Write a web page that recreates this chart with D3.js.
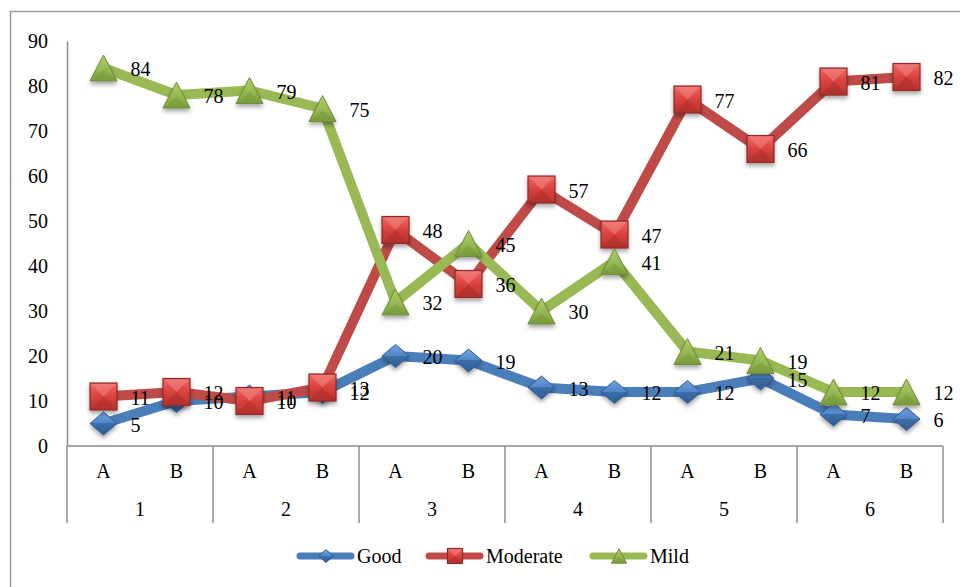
<!DOCTYPE html>
<html>
<head>
<meta charset="utf-8">
<script src="https://cdn.jsdelivr.net/npm/d3@7/dist/d3.min.js"></script>
<style>
  html, body { margin: 0; padding: 0; background: #ffffff; }
  svg { display: block; }
  svg text { font-family: "Times New Roman", "Liberation Serif", "DejaVu Serif", serif !important; fill: #000; }
</style>
</head>
<body>
<svg id="chart" width="960" height="587"></svg>
<script>
// Categories: sub-group letters within each numbered group
const groups = ["1", "2", "3", "4", "5", "6"];
const subLabels = ["A", "B"];
const yTicks = [0, 10, 20, 30, 40, 50, 60, 70, 80, 90];

// Series values, one per (group, sub-group) pair
const goodValues = [5, 10, 11, 12, 20, 19, 13, 12, 12, 15, 7, 6];
const moderateValues = [11, 12, 10, 13, 48, 36, 57, 47, 77, 66, 81, 82];
const mildValues = [84, 78, 79, 75, 32, 45, 30, 41, 21, 19, 12, 12];

const FONT = '"Times New Roman", "Liberation Serif", "DejaVu Serif", serif';
const FS = 20;

const categories = [];
groups.forEach(g => subLabels.forEach(s => categories.push(g + "|" + s)));

const series = [
  { name: "Good", values: goodValues, color: "#4a7ebb", shape: "diamond" },
  { name: "Moderate", values: moderateValues, color: "#be4b48", shape: "square" },
  { name: "Mild", values: mildValues, color: "#98b954", shape: "triangle" }
];

const svg = d3.select("#chart");
const defs = svg.append("defs");

// soft drop shadow under the markers
const shadow = defs.append("filter").attr("id", "mshadow")
  .attr("x", "-50%").attr("y", "-50%").attr("width", "200%").attr("height", "220%");
shadow.append("feDropShadow").attr("dx", 0).attr("dy", 3).attr("stdDeviation", 2)
  .attr("flood-color", "#000").attr("flood-opacity", 0.35);

function grad(id, stops) {
  const g = defs.append("linearGradient").attr("id", id)
    .attr("x1", 0).attr("y1", 0).attr("x2", 0).attr("y2", 1);
  stops.forEach(([o, c]) => g.append("stop").attr("offset", o).attr("stop-color", c));
}
grad("gSquare", [[0, "#ef6a66"], [0.5, "#d9413d"], [1, "#b7322f"]]);
grad("gDiamond", [[0, "#6fa3e0"], [0.5, "#4f86c9"], [0.5, "#3c6ea8"], [1, "#2f5d93"]]);
grad("gTri", [[0, "#b0cf6c"], [0.6, "#93b650"], [1, "#7b9c3c"]]);

// outer chart frame
svg.append("rect").attr("x", 10.5).attr("y", 11.5).attr("width", 990).attr("height", 620)
  .attr("fill", "none").attr("stroke", "#9a9a9a").attr("stroke-width", 1.5);

const plotLeft = 67, plotRight = 943, plotTop = 41, plotBottom = 446;

const x = d3.scaleBand().domain(categories).range([plotLeft, plotRight]);
const xg = d3.scaleBand().domain(groups).range([plotLeft, plotRight]);
const y = d3.scaleLinear().domain([0, 90]).range([plotBottom, plotTop]);
const cx = c => x(c) + x.bandwidth() / 2;

// value axis
const yAxis = svg.append("g").attr("transform", `translate(${plotLeft},0)`)
  .call(d3.axisLeft(y).tickValues(yTicks).tickSize(0).tickPadding(19).tickSizeOuter(0));
yAxis.attr("font-family", FONT);
yAxis.select(".domain").attr("stroke", "#8c8c8c").attr("stroke-width", 1.5);
yAxis.selectAll("text").attr("font-size", FS);

// category axis: baseline, group separators, sub and group labels
const axisColor = "#8c8c8c";
svg.append("line").attr("x1", plotLeft).attr("x2", plotRight)
  .attr("y1", plotBottom).attr("y2", plotBottom)
  .attr("stroke", axisColor).attr("stroke-width", 1.5);
const seps = groups.map(g => xg(g)).concat([plotRight]);
svg.selectAll(".sep").data(seps).join("line")
  .attr("x1", d => d).attr("x2", d => d)
  .attr("y1", plotBottom).attr("y2", 523)
  .attr("stroke", axisColor).attr("stroke-width", 1.5);

const xAxis = svg.append("g").attr("transform", `translate(0,${plotBottom})`)
  .call(d3.axisBottom(x).tickSize(0).tickPadding(18).tickFormat(c => c.split("|")[1]));
xAxis.attr("font-family", FONT);
xAxis.select(".domain").remove();
xAxis.selectAll("text").attr("font-size", FS);

svg.selectAll(".grpLabel").data(groups).join("text")
  .attr("x", g => xg(g) + xg.bandwidth() / 2)
  .attr("y", 516)
  .attr("text-anchor", "middle").attr("font-size", FS)
  .text(g => g);

// marker shapes
function drawMarker(sel, shape, size) {
  const h = size / 2;
  if (shape === "square") {
    sel.append("rect").attr("x", -h).attr("y", -h).attr("width", size).attr("height", size)
      .attr("fill", "url(#gSquare)").attr("stroke", "#8a2b29").attr("stroke-width", 1.2);
    sel.append("path").attr("d", `M${-h + 1},${-h + 1}L0,0L${h - 1},${-h + 1}Z`)
      .attr("fill", "#f28582").attr("opacity", 0.55);
    sel.append("path").attr("d", `M${-h + 1},${h - 1}L0,0L${h - 1},${h - 1}Z`)
      .attr("fill", "#a82c29").attr("opacity", 0.45);
  } else if (shape === "diamond") {
    const hy = h * 0.85;
    sel.append("path").attr("d", `M0,${-hy}L${h},0L0,${hy}L${-h},0Z`)
      .attr("fill", "url(#gDiamond)").attr("stroke", "#2f5b8f").attr("stroke-width", 1);
  } else {
    const hy = size * 0.48;
    sel.append("path").attr("d", `M0,${-hy}L${h},${hy}L${-h},${hy}Z`)
      .attr("fill", "url(#gTri)").attr("stroke", "#6f8b38").attr("stroke-width", 1);
    sel.append("path").attr("d", `M0,${hy * 0.15}L${h * 0.8},${hy * 0.9}L${-h * 0.8},${hy * 0.9}Z`)
      .attr("fill", "#7a9a3a").attr("opacity", 0.55);
  }
}

const line = d3.line().x((d, i) => cx(categories[i])).y(d => y(d));

// each series: line, then its markers
series.forEach(s => {
  const g = svg.append("g");
  g.append("path").datum(s.values).attr("d", line)
    .attr("fill", "none").attr("stroke", s.color).attr("stroke-width", 10)
    .attr("stroke-linejoin", "round");
  g.selectAll(".m").data(s.values).join("g")
    .attr("transform", (d, i) => `translate(${cx(categories[i])},${y(d)})`)
    .attr("filter", "url(#mshadow)")
    .each(function () { drawMarker(d3.select(this), s.shape, 27); });
});

// data labels on top of everything
series.forEach(s => {
  svg.selectAll(null).data(s.values).join("text")
    .attr("x", (d, i) => cx(categories[i]) + 27)
    .attr("y", d => y(d) + 8)
    .attr("font-size", FS)
    .text(d => d);
});

// legend
const legendItems = [
  { s: series[0], x: 297 },
  { s: series[1], x: 426 },
  { s: series[2], x: 590 }
];
const ly = 556;
legendItems.forEach(it => {
  const g = svg.append("g");
  g.append("line").attr("x1", it.x + 3).attr("x2", it.x + 54).attr("y1", ly).attr("y2", ly)
    .attr("stroke", it.s.color).attr("stroke-width", 7).attr("stroke-linecap", "round");
  const m = g.append("g").attr("transform", `translate(${it.x + 29},${ly})`);
  drawMarker(m, it.s.shape, 15);
  g.append("text").attr("x", it.x + 60).attr("y", ly + 7).attr("font-size", FS).text(it.s.name);
});
</script>
</body>
</html>
